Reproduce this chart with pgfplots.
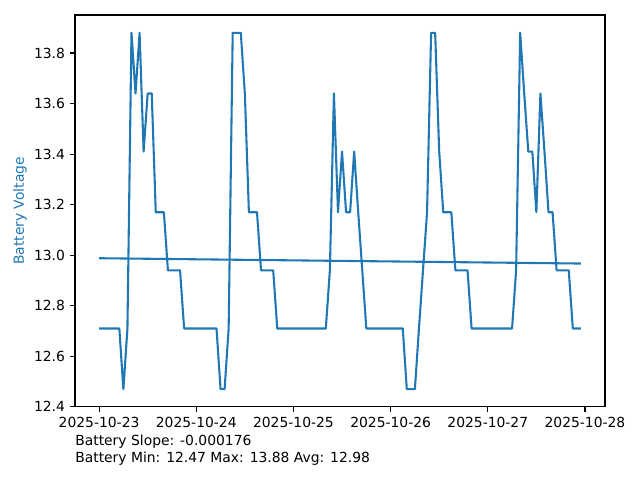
\documentclass[border=0pt]{standalone}
\usepackage{pgfplots}
\pgfplotsset{compat=1.18}
\usepackage{pgfplotstable}
\usepackage{fontspec}
\setmainfont{DejaVu Sans}
\definecolor{mplblue}{HTML}{1F77B4}
\pgfplotstableread{
h v
0 12.71
1 12.71
2 12.71
3 12.71
4 12.71
5 12.71
6 12.47
7 12.71
8 13.88
9 13.64
10 13.88
11 13.41
12 13.64
13 13.64
14 13.17
15 13.17
16 13.17
17 12.94
18 12.94
19 12.94
20 12.94
21 12.71
22 12.71
23 12.71
24 12.71
25 12.71
26 12.71
27 12.71
28 12.71
29 12.71
30 12.47
31 12.47
32 12.71
33 13.88
34 13.88
35 13.88
36 13.64
37 13.17
38 13.17
39 13.17
40 12.94
41 12.94
42 12.94
43 12.94
44 12.71
45 12.71
46 12.71
47 12.71
48 12.71
49 12.71
50 12.71
51 12.71
52 12.71
53 12.71
54 12.71
55 12.71
56 12.71
57 12.94
58 13.64
59 13.17
60 13.41
61 13.17
62 13.17
63 13.41
64 13.17
65 12.94
66 12.71
67 12.71
68 12.71
69 12.71
70 12.71
71 12.71
72 12.71
73 12.71
74 12.71
75 12.71
76 12.47
77 12.47
78 12.47
79 12.71
80 12.94
81 13.17
82 13.88
83 13.88
84 13.41
85 13.17
86 13.17
87 13.17
88 12.94
89 12.94
90 12.94
91 12.94
92 12.71
93 12.71
94 12.71
95 12.71
96 12.71
97 12.71
98 12.71
99 12.71
100 12.71
101 12.71
102 12.71
103 12.94
104 13.88
105 13.64
106 13.41
107 13.41
108 13.17
109 13.64
110 13.41
111 13.17
112 13.17
113 12.94
114 12.94
115 12.94
116 12.94
117 12.71
118 12.71
119 12.71
}\battery
\pgfplotstableread{
h v
0 12.988
119 12.967
}\trend
\begin{document}
\begin{tikzpicture}
\path[use as bounding box] (-54pt,-52.6pt) rectangle (406.8pt,293pt);
\begin{axis}[
  at={(0pt,0pt)}, anchor=south west,
  scale only axis,
  width=381.6pt, height=282.2pt,
  xmin=-5.95, xmax=124.95,
  ymin=12.3995, ymax=13.9505,
  xtick={0,24,48,72,96,120},
  xticklabels={2025-10-23,2025-10-24,2025-10-25,2025-10-26,2025-10-27,2025-10-28},
  ytick={12.4,12.6,12.8,13.0,13.2,13.4,13.6,13.8},
  /pgf/number format/fixed,
  /pgf/number format/fixed zerofill,
  /pgf/number format/precision=1,
  /pgf/number format/assume math mode=true,
  scaled y ticks=false,
  tick align=outside,
  xtick pos=bottom, ytick pos=left,
  major tick length=3.5pt,
  every tick/.style={black, line width=0.8pt},
  axis line style={line width=0.8pt},
  tick label style={font=\fontsize{10}{12}\selectfont},
  xticklabel style={inner sep=0pt, yshift=-3.5pt},
  yticklabel style={inner sep=0pt, xshift=-3.5pt},
  ylabel={Battery Voltage},
  ylabel style={color=mplblue, font=\fontsize{10}{12}\selectfont, at={(axis description cs:0,0.5)}, anchor=center, rotate=0, yshift=39.6pt},
]
\addplot[mplblue, line width=1.5pt, line join=round] table[x=h,y=v] {\battery};
\addplot[mplblue, line width=1.5pt] table[x=h,y=v] {\trend};
\end{axis}
\node[anchor=base west, inner sep=0pt, font=\fontsize{10}{12}\selectfont] at (0pt,-28.1pt) {Battery Slope: -0.000176};
\node[anchor=base west, inner sep=0pt, font=\fontsize{10}{12}\selectfont] at (0pt,-40.1pt) {Battery Min: 12.47 Max: 13.88 Avg: 12.98};
\end{tikzpicture}
\end{document}
